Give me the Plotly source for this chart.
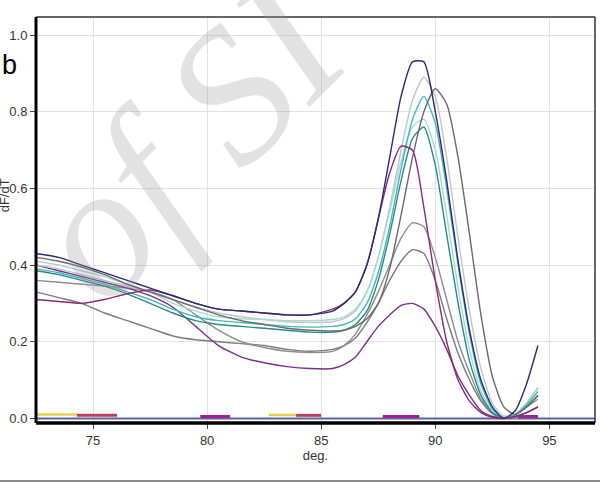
import plotly.graph_objects as go

# Temperature grid (deg.)
temps = [72.5, 73.5, 74.5, 75.5, 76.5, 77.5, 78.5, 79.5, 80.5, 81.5, 82.5, 83.5, 84.5, 85.5,
         86.0, 86.5, 87.0, 87.5, 88.0, 88.5, 89.0, 89.5, 90.0, 90.5, 91.0, 91.5, 92.0, 92.5,
         93.0, 93.5, 94.0, 94.5]

navy = [0.43, 0.42, 0.40, 0.38, 0.36, 0.34, 0.32, 0.30, 0.285, 0.28, 0.275, 0.27, 0.27, 0.28,
        0.30, 0.33, 0.40, 0.52, 0.68, 0.84, 0.93, 0.93, 0.80, 0.62, 0.41, 0.23, 0.10, 0.03,
        0.00, 0.02, 0.09, 0.19]
light_gray = [0.40, 0.39, 0.375, 0.36, 0.345, 0.33, 0.31, 0.29, 0.275, 0.265, 0.258, 0.252, 0.25, 0.252,
              0.26, 0.28, 0.33, 0.42, 0.55, 0.70, 0.83, 0.89, 0.84, 0.68, 0.47, 0.28, 0.13, 0.04,
              0.005, 0.01, 0.04, 0.08]
dark_gray = [0.42, 0.41, 0.395, 0.375, 0.35, 0.33, 0.31, 0.29, 0.27, 0.255, 0.245, 0.235, 0.23, 0.228,
             0.23, 0.24, 0.26, 0.30, 0.39, 0.53, 0.68, 0.80, 0.86, 0.82, 0.68, 0.48, 0.27, 0.11,
             0.03, 0.01, 0.03, 0.06]
teal = [0.39, 0.38, 0.365, 0.35, 0.33, 0.31, 0.285, 0.265, 0.255, 0.25, 0.245, 0.24, 0.238, 0.24,
        0.245, 0.26, 0.30, 0.38, 0.50, 0.65, 0.78, 0.84, 0.77, 0.60, 0.40, 0.22, 0.09, 0.025,
        0.00, 0.01, 0.035, 0.07]
teal_dark = [0.385, 0.375, 0.36, 0.345, 0.325, 0.30, 0.275, 0.255, 0.245, 0.24, 0.235, 0.23, 0.225, 0.225,
             0.23, 0.245, 0.28, 0.36, 0.48, 0.62, 0.73, 0.76, 0.66, 0.48, 0.30, 0.15, 0.06, 0.015,
             0.00, 0.01, 0.03, 0.06]
light_cyan = [0.41, 0.40, 0.385, 0.37, 0.35, 0.33, 0.30, 0.28, 0.265, 0.26, 0.258, 0.255, 0.255, 0.258,
              0.265, 0.285, 0.33, 0.42, 0.54, 0.67, 0.76, 0.78, 0.70, 0.53, 0.34, 0.18, 0.07, 0.02,
              0.00, 0.01, 0.04, 0.08]
magenta = [0.31, 0.305, 0.30, 0.31, 0.325, 0.335, 0.32, 0.30, 0.285, 0.28, 0.275, 0.27, 0.27, 0.285,
           0.30, 0.33, 0.40, 0.52, 0.64, 0.71, 0.70, 0.55, 0.36, 0.20, 0.10, 0.045, 0.015, 0.003,
           0.00, 0.005, 0.015, 0.03]
gray_b = [0.36, 0.355, 0.35, 0.345, 0.34, 0.33, 0.31, 0.27, 0.23, 0.20, 0.185, 0.175, 0.172, 0.175,
          0.19, 0.22, 0.27, 0.33, 0.40, 0.47, 0.51, 0.50, 0.42, 0.31, 0.20, 0.12, 0.05, 0.015,
          0.00, 0.01, 0.03, 0.05]
gray_a = [0.33, 0.315, 0.30, 0.275, 0.255, 0.235, 0.215, 0.205, 0.20, 0.195, 0.19, 0.18, 0.175, 0.18,
          0.19, 0.21, 0.25, 0.30, 0.36, 0.41, 0.44, 0.43, 0.36, 0.26, 0.17, 0.10, 0.045, 0.012,
          0.00, 0.01, 0.03, 0.06]
purple_low = [0.40, 0.385, 0.37, 0.355, 0.34, 0.32, 0.29, 0.24, 0.19, 0.16, 0.145, 0.135, 0.13, 0.13,
              0.14, 0.16, 0.20, 0.24, 0.27, 0.295, 0.30, 0.285, 0.24, 0.18, 0.11, 0.06, 0.02, 0.005,
              0.00, 0.005, 0.015, 0.03]

series = [
    ("gray A", gray_a, "#7c7c7c"),
    ("gray B", gray_b, "#8e8e8e"),
    ("purple low", purple_low, "#7a2f8c"),
    ("light gray", light_gray, "#c4c4c4"),
    ("light cyan", light_cyan, "#a6d8d8"),
    ("teal dark", teal_dark, "#2a8a8a"),
    ("teal", teal, "#3fb8b8"),
    ("dark gray", dark_gray, "#6a6a6a"),
    ("magenta", magenta, "#8a2a78"),
    ("navy", navy, "#2a2a7c"),
]

# near-zero baseline segments
base_x = [72.5, 97.0]
base_y = [0.0, 0.0]
yellow_x = [72.5, 74.3, None, 82.7, 83.9]
yellow_y = [0.010, 0.010, None, 0.009, 0.009]
red_x = [74.3, 76.05, None, 83.9, 85.0]
red_y = [0.008, 0.008, None, 0.008, 0.008]
mag_x = [79.7, 81.0, None, 87.7, 89.3, None, 93.6, 94.5]
mag_y = [0.005, 0.005, None, 0.005, 0.005, None, 0.005, 0.005]
gray_x = [92.5, 93.6]
gray_y = [0.003, 0.003]

x_ticks = [75, 80, 85, 90, 95]
y_ticks = [0.0, 0.2, 0.4, 0.6, 0.8, 1.0]

fig = go.Figure()

fig.add_trace(go.Scatter(x=base_x, y=base_y, mode="lines",
                         line=dict(color="#5a64a8", width=2), hoverinfo="skip"))
fig.add_trace(go.Scatter(x=yellow_x, y=yellow_y, mode="lines",
                         line=dict(color="#e6d04a", width=2.5), hoverinfo="skip"))
fig.add_trace(go.Scatter(x=red_x, y=red_y, mode="lines",
                         line=dict(color="#b8405c", width=3), hoverinfo="skip"))
fig.add_trace(go.Scatter(x=mag_x, y=mag_y, mode="lines",
                         line=dict(color="#a0208c", width=3), hoverinfo="skip"))
fig.add_trace(go.Scatter(x=gray_x, y=gray_y, mode="lines",
                         line=dict(color="#909090", width=3), hoverinfo="skip"))

for name, vals, col in series:
    fig.add_trace(go.Scatter(x=temps, y=vals, mode="lines", name=name,
                             line=dict(color=col, width=1.4, shape="spline", smoothing=0.6)))

fig.update_layout(
    width=600, height=482,
    margin=dict(l=36, r=5, t=17, b=59),
    paper_bgcolor="white", plot_bgcolor="white",
    showlegend=False,
    font=dict(family="Liberation Sans, Arial, sans-serif", size=13, color="#333333"),
    xaxis=dict(range=[72.5, 97.0], tickvals=x_ticks, ticks="outside", ticklen=5,
               tickcolor="#444", showgrid=True, gridcolor="#e2e2e2", gridwidth=1,
               zeroline=False, showline=False,
               title=dict(text="deg.", standoff=4, font=dict(size=13, color="#333"))),
    yaxis=dict(range=[-0.012, 1.047], tickvals=y_ticks, tickformat=".1f",
               ticks="outside", ticklen=5, tickcolor="#444",
               showgrid=True, gridcolor="#e2e2e2", gridwidth=1,
               zeroline=False, showline=False),
    shapes=[
        dict(type="line", xref="paper", yref="paper", x0=0, x1=1, y0=1, y1=1,
             line=dict(color="#333", width=1.5)),
        dict(type="line", xref="paper", yref="paper", x0=1, x1=1, y0=0, y1=1,
             line=dict(color="#333", width=1.5)),
        dict(type="line", xref="paper", yref="paper", x0=0, x1=0, y0=0, y1=1,
             line=dict(color="black", width=3)),
        dict(type="line", xref="paper", yref="paper", x0=0, x1=1, y0=0, y1=0,
             line=dict(color="black", width=3.5)),
        dict(type="line", xref="paper", yref="paper", x0=-0.07, x1=1.01, y0=-0.143, y1=-0.143,
             line=dict(color="#8a8a8a", width=2)),
    ],
    annotations=[
        dict(text="b", xref="paper", yref="paper", x=-0.048, y=0.882, showarrow=False,
             xanchor="center", yanchor="middle",
             font=dict(size=27, color="black", family="Liberation Sans, Arial, sans-serif")),
        dict(text="dF/dT", xref="paper", yref="paper", x=-0.056, y=0.56, showarrow=False,
             xanchor="center", yanchor="middle",
             textangle=-90, font=dict(size=13, color="#333")),
        dict(text="of SI", xref="paper", yref="paper", x=0.27, y=0.70, showarrow=False,
             xanchor="center", yanchor="middle", textangle=-45,
             font=dict(size=190, color="rgba(150,150,150,0.28)",
                       family="Liberation Serif, DejaVu Serif, serif", style="italic")),
    ],
)

fig.write_html("out.html")
